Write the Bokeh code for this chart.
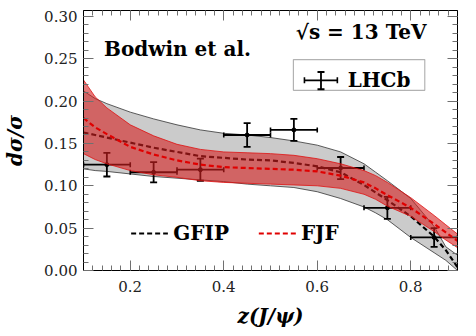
import numpy as np
from bokeh.plotting import figure
from bokeh.models import (LinearAxis, SingleIntervalTicker, PrintfTickFormatter, Range1d,
                          Arrow, TeeHead, BoxAnnotation, CustomJSTickFormatter)
from bokeh.core.properties import value
from bokeh.embed import file_html
from bokeh.resources import INLINE

# ---- data ----
z_grid = [0.1, 0.125, 0.15, 0.2, 0.25, 0.3, 0.35, 0.4, 0.45, 0.5, 0.55, 0.6,
          0.65, 0.7, 0.725, 0.75, 0.8, 0.85, 0.875, 0.9]
gfip_hi = [0.212, 0.203, 0.197, 0.187, 0.179, 0.172, 0.166, 0.162, 0.160, 0.157, 0.153, 0.148,
           0.140, 0.126, 0.116, 0.106, 0.085, 0.052, 0.028, 0.018]
gfip_lo = [0.120, 0.118, 0.117, 0.114, 0.111, 0.109, 0.107, 0.105, 0.102, 0.100, 0.098, 0.093,
           0.085, 0.075, 0.068, 0.060, 0.039, 0.021, 0.012, 0.000]
gfip_mid = [0.163, 0.160, 0.157, 0.151, 0.145, 0.140, 0.135, 0.133, 0.131, 0.130, 0.127, 0.123,
            0.116, 0.101, 0.092, 0.083, 0.064, 0.040, 0.024, 0.004]
fjf_hi = [0.225, 0.205, 0.192, 0.172, 0.159, 0.149, 0.143, 0.140, 0.139, 0.138, 0.136, 0.132,
          0.126, 0.118, 0.112, 0.104, 0.086, 0.065, 0.054, 0.043]
fjf_lo = [0.138, 0.131, 0.126, 0.118, 0.113, 0.110, 0.106, 0.104, 0.103, 0.102, 0.101, 0.100,
          0.097, 0.090, 0.084, 0.076, 0.064, 0.046, 0.036, 0.027]
fjf_mid = [0.180, 0.169, 0.161, 0.146, 0.137, 0.130, 0.125, 0.122, 0.121, 0.120, 0.119, 0.117,
           0.112, 0.104, 0.097, 0.089, 0.074, 0.055, 0.045, 0.035]

lhcb_z = [0.15, 0.25, 0.35, 0.45, 0.55, 0.65, 0.75, 0.85]
lhcb_zerr = [0.05, 0.05, 0.05, 0.05, 0.05, 0.05, 0.05, 0.05]
lhcb_y = [0.125, 0.116, 0.119, 0.160, 0.166, 0.121, 0.074, 0.039]
lhcb_yerr = [0.014, 0.012, 0.013, 0.014, 0.013, 0.013, 0.013, 0.011]

x_ticks_label_fmt = "%.1f"
y_ticks_label_fmt = "%.2f"

SERIF = "DejaVu Serif"
TXT = "20px"

p = figure(width=468, height=330, x_range=Range1d(0.1, 0.9), y_range=Range1d(0.0, 0.307),
           output_backend="svg", toolbar_location=None,
           min_border_left=80, min_border_right=11, min_border_top=10, min_border_bottom=60)
p.xgrid.visible = False
p.ygrid.visible = False
p.outline_line_color = "black"
p.outline_line_width = 1
p.background_fill_color = "white"
p.border_fill_color = "white"

# bands and curves
p.varea(x=z_grid, y1=gfip_lo, y2=gfip_hi, fill_color="#cbcbcb")
p.line(z_grid, gfip_hi, line_color="#333333", line_width=0.8)
p.line(z_grid, gfip_lo, line_color="#333333", line_width=0.8)
p.line(z_grid, gfip_mid, line_color="black", line_width=2.2, line_dash="5 3")

zz = np.array(lhcb_z); ze = np.array(lhcb_zerr); yy = np.array(lhcb_y); ye = np.array(lhcb_yerr)
p.segment(x0=zz - ze, y0=yy, x1=zz + ze, y1=yy, line_color="black", line_width=1.8)
p.segment(x0=zz, y0=yy - ye, x1=zz, y1=yy + ye, line_color="black", line_width=1.8)
p.scatter(x=np.concatenate([zz - ze, zz + ze]), y=np.concatenate([yy, yy]), marker="dash",
          angle=np.pi / 2, size=5, line_color="black", line_width=1.6)
p.scatter(x=np.concatenate([zz, zz]), y=np.concatenate([yy - ye, yy + ye]), marker="dash",
          size=7, line_color="black", line_width=1.8)
p.scatter(x=zz, y=yy, size=4, color="black")

p.varea(x=z_grid, y1=fjf_lo, y2=fjf_hi, fill_color="#d62020", fill_alpha=0.6)
p.line(z_grid, fjf_hi, line_color="#e01010", line_width=0.8)
p.line(z_grid, fjf_lo, line_color="#e01010", line_width=0.8)
p.line(z_grid, fjf_mid, line_color="#e00000", line_width=2.2, line_dash="5 3")

# axes
xt = SingleIntervalTicker(interval=0.2, num_minor_ticks=10)
yt = SingleIntervalTicker(interval=0.05, num_minor_ticks=5)
for ax, tk, fmt in ((p.xaxis[0], xt, x_ticks_label_fmt), (p.yaxis[0], yt, y_ticks_label_fmt)):
    ax.ticker = tk
    ax.formatter = PrintfTickFormatter(format=fmt)
    ax.major_tick_in = 10
    ax.major_tick_out = 0
    ax.minor_tick_in = 5
    ax.minor_tick_out = 0
    ax.major_tick_line_color = "#707070"
    ax.minor_tick_line_color = "#707070"
    ax.axis_line_color = "black"
    ax.major_label_text_font = SERIF
    ax.major_label_text_font_size = "15px"
    ax.major_label_text_color = "#222222"
    ax.axis_label_text_font = SERIF
    ax.axis_label_text_font_size = "20px"
    ax.axis_label_text_font_style = "bold italic"
    ax.axis_label_text_color = "black"
p.xaxis.axis_label = "z(J/ψ)"
p.yaxis.axis_label = "dσ/σ"
p.xaxis.major_label_standoff = 10
p.xaxis.axis_label_standoff = 9
p.yaxis.major_label_standoff = 6
p.yaxis.axis_label_standoff = 14

for loc, tk in (("above", xt), ("right", yt)):
    ax = LinearAxis(ticker=tk, formatter=CustomJSTickFormatter(code="return ''"),
                    major_label_text_font_size="1px", major_label_text_color=None,
                    major_label_standoff=0,
                    major_tick_in=10, major_tick_out=0, minor_tick_in=5, minor_tick_out=0,
                    major_tick_line_color="#707070", minor_tick_line_color="#707070",
                    axis_line_color="black")
    p.add_layout(ax, loc)

# texts (annotations positioned in data coordinates)
note_x = [0.144, 0.554, 0.665, 0.292, 0.565]
note_y = [0.2612, 0.2813, 0.2246, 0.0437, 0.0437]
note_t = ["Bodwin et al.", "√s = 13 TeV", "LHCb", "GFIP", "FJF"]
p.text(x=note_x, y=note_y, text=note_t, text_font=value(SERIF), text_font_size=TXT,
       text_font_style="bold", text_baseline="middle", text_align="left", text_color="black")

# LHCb legend box
p.add_layout(BoxAnnotation(left=0.549, right=0.830, bottom=0.2128, top=0.249,
                           fill_color=None, line_color="black", line_width=1.2))
p.add_layout(Arrow(x_start=0.5726, y_start=0.2246, x_end=0.643, y_end=0.2246,
                   start=TeeHead(size=6, line_width=1.6), end=TeeHead(size=6, line_width=1.6),
                   line_width=1.8, line_color="black"))
p.add_layout(Arrow(x_start=0.608, y_start=0.2140, x_end=0.608, y_end=0.2344,
                   start=TeeHead(size=7, line_width=1.8), end=TeeHead(size=7, line_width=1.8),
                   line_width=1.8, line_color="black"))

# model legend line samples
p.add_layout(Arrow(x_start=0.2019, y_start=0.0437, x_end=0.2805, y_end=0.0437, end=None,
                   line_width=2.2, line_color="black", line_dash="5 3"))
p.add_layout(Arrow(x_start=0.475, y_start=0.0437, x_end=0.558, y_end=0.0437, end=None,
                   line_width=2.2, line_color="#e00000", line_dash="5 3"))

open("out.html", "w").write(file_html(p, INLINE))
